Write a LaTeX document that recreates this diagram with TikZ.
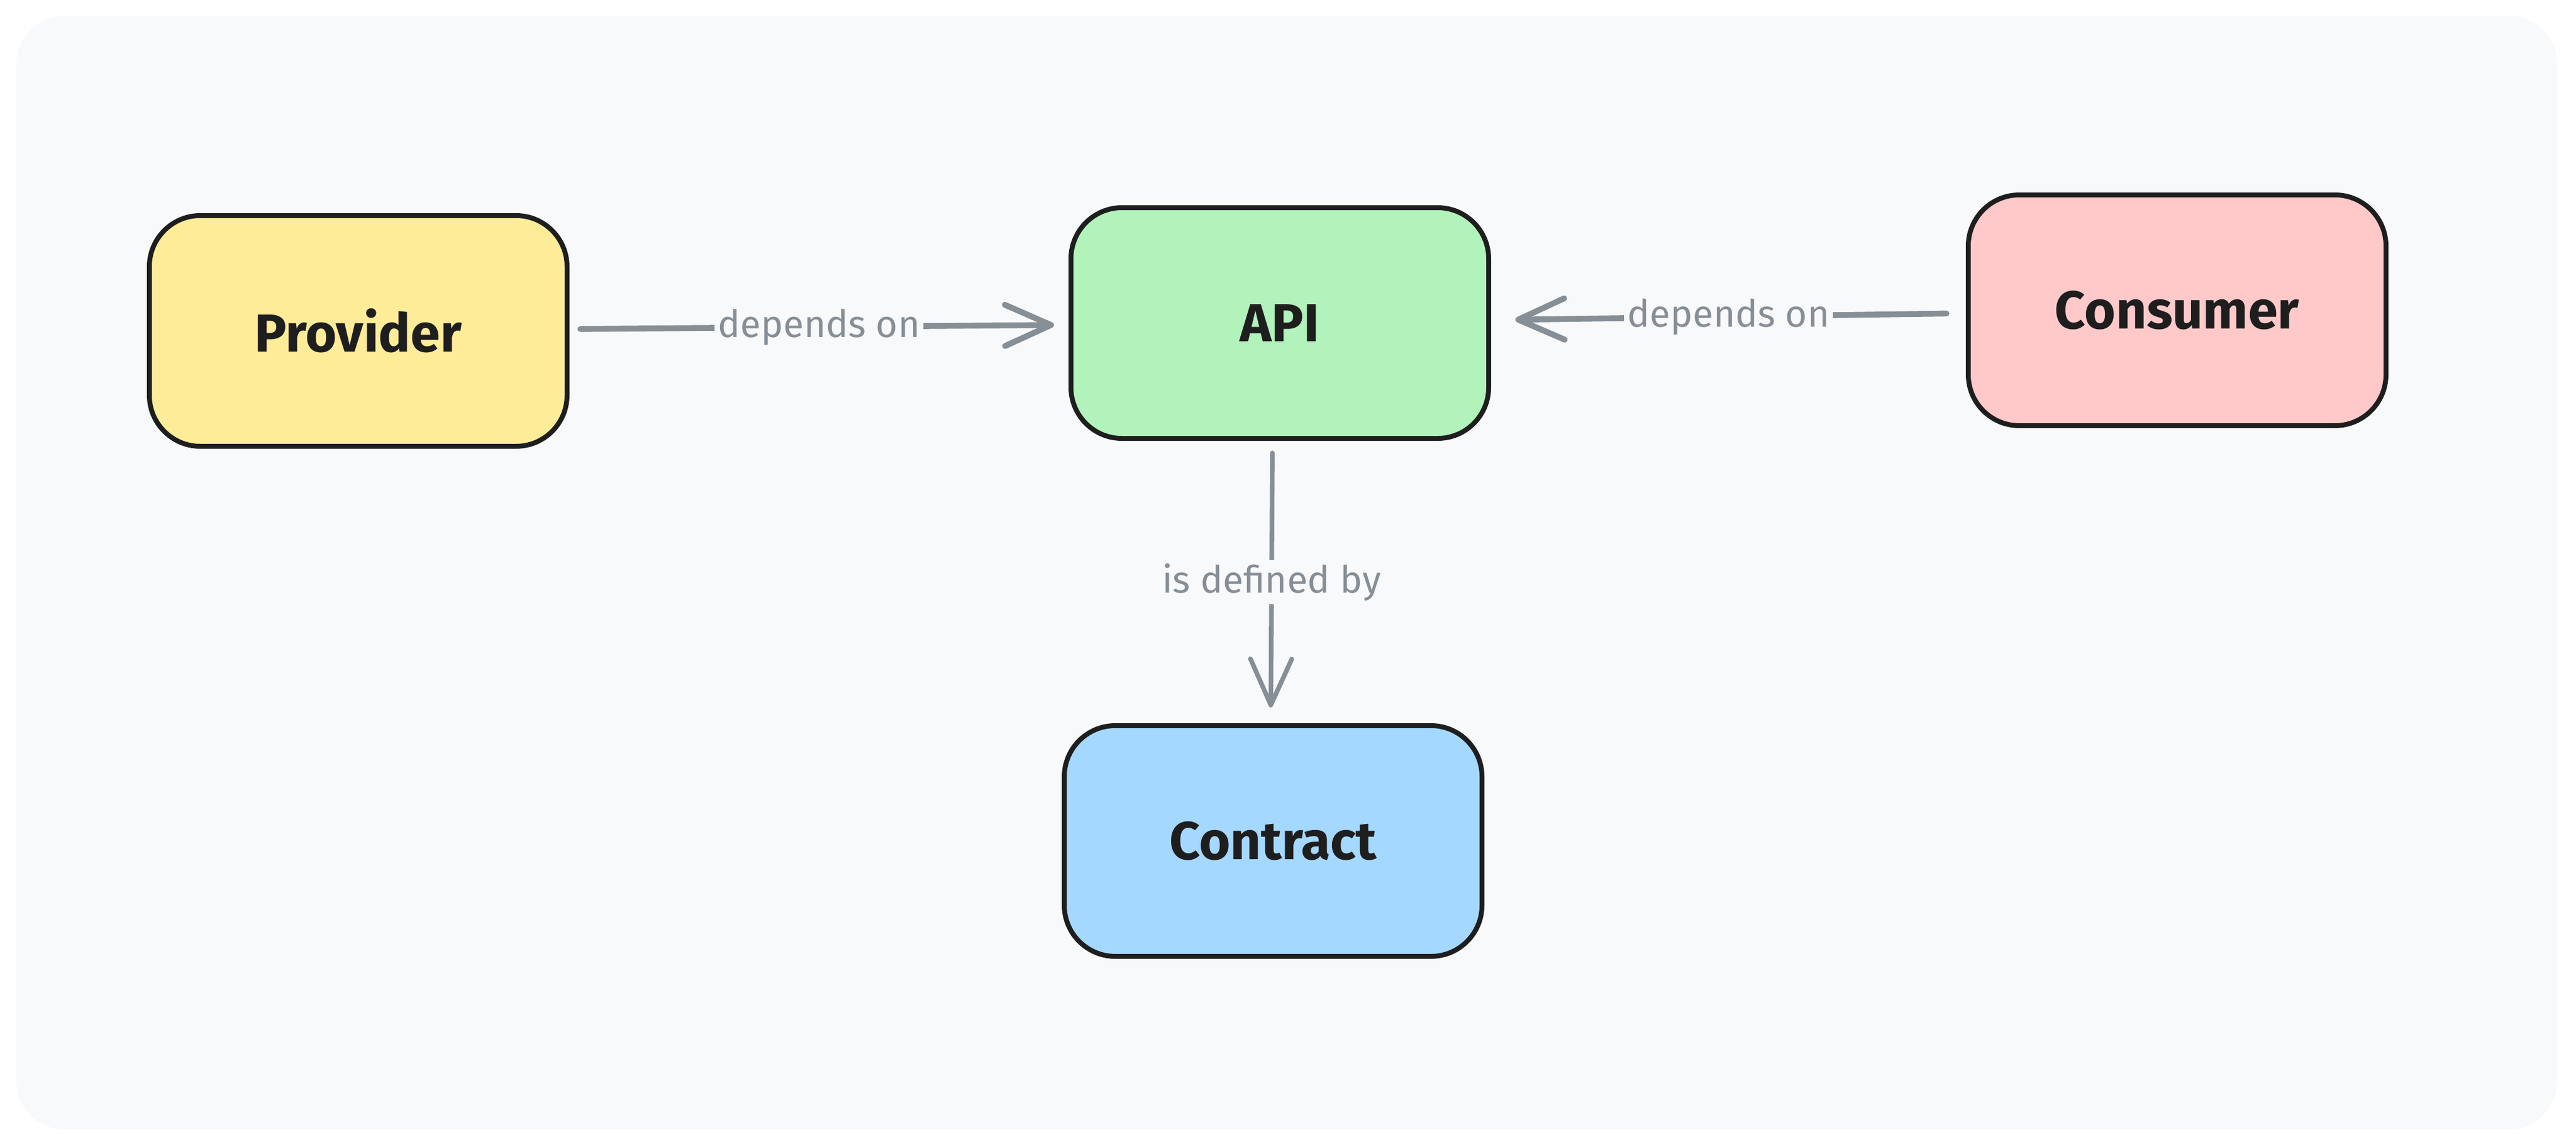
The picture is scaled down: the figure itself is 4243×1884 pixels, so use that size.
\documentclass[tikz,border=0pt]{standalone}
\usepackage{fontspec}
\setmainfont{Fira Sans}
\usetikzlibrary{arrows.meta}
\definecolor{bgc}{HTML}{F8F9FA}
\definecolor{strokec}{HTML}{1E1E1E}
\definecolor{arrowgray}{HTML}{868E96}
\definecolor{yellowc}{HTML}{FFEC99}
\definecolor{greenc}{HTML}{B2F2BB}
\definecolor{redc}{HTML}{FFC9C9}
\definecolor{bluec}{HTML}{A5D8FF}
\tikzset{
  box/.style={draw=strokec, line width=2pt, rounded corners=21pt,
    minimum width=172pt, minimum height=95pt, text=strokec,
    font=\fontsize{22}{26}\selectfont\bfseries},
  conn/.style={draw=arrowgray, line width=2.4pt, line cap=round,
    -{Straight Barb[length=19pt,width=17pt,round]}},
  lab/.style={fill=bgc, text=arrowgray, inner sep=1.5pt,
    font=\fontsize{15.5}{18}\selectfont}
}
\begin{document}
\begin{tikzpicture}[x=0.25pt,y=-0.25pt]
\useasboundingbox (0,0) rectangle (4243,1884);
\fill[white] (0,0) rectangle (4243,1884);
\fill[bgc, rounded corners=20pt] (27,26) rectangle (4212,1860);

\node[box, fill=yellowc] (prov) at (590,545) {Provider};
\node[box, fill=greenc] (api) at (2108,532) {API};
\node[box, fill=redc] (cons) at (3586,511) {Consumer};
\node[box, fill=bluec] (contr) at (2097,1385) {Contract};

\draw[conn, shorten <=4.5pt, shorten >=6pt] (prov) -- node[lab] {depends on} (api);
\draw[conn, shorten <=8pt, shorten >=10pt] (cons) -- node[lab] {depends on} (api);
\draw[conn, line width=1.9pt, shorten <=5pt, shorten >=6.5pt] ([xshift=-3pt]api.south) -- node[lab] {is defined by} ([xshift=-1pt]contr.north);
\end{tikzpicture}
\end{document}
